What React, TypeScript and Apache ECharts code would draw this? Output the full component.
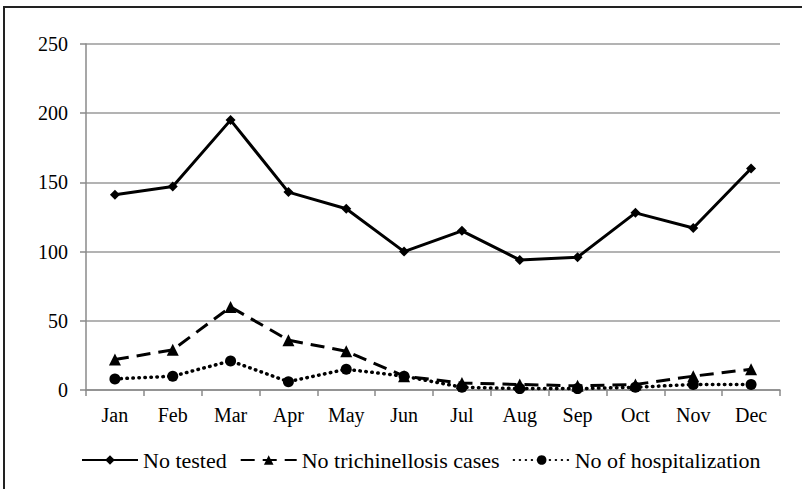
import React, { useEffect, useRef } from "react";
import * as echarts from "echarts";

const months = ["Jan", "Feb", "Mar", "Apr", "May", "Jun", "Jul", "Aug", "Sep", "Oct", "Nov", "Dec"];
const noTested = [141, 147, 195, 143, 131, 100, 115, 94, 96, 128, 117, 160];
const noCases = [22, 29, 60, 36, 28, 10, 5, 4, 3, 4, 10, 15];
const noHospital = [8, 10, 21, 6, 15, 10, 2, 1, 1, 2, 4, 4];
const yTicks = { min: 0, max: 250, interval: 50 };

const FONT = "Liberation Serif";

export default function App() {
  const ref = useRef<HTMLDivElement>(null);
  useEffect(() => {
    if (!ref.current) return;
    const chart = echarts.init(ref.current, undefined, { renderer: "svg" });
    chart.setOption({
      animation: false,
      backgroundColor: "#fff",
      textStyle: { fontFamily: FONT, color: "#000" },
      graphic: [
        {
          type: "polyline",
          shape: { points: [[802, 7], [4, 7], [4, 489]] },
          style: { stroke: "#222", lineWidth: 2, fill: "none" },
          silent: true,
        },
      ],
      grid: { left: 86, right: 22, top: 44, bottom: 99, containLabel: false },
      legend: {
        top: 444,
        left: 76,
        itemWidth: 56,
        itemHeight: 12,
        itemGap: 13,
        textStyle: { fontFamily: FONT, fontSize: 22, color: "#000" },
        data: ["No tested", "No trichinellosis cases", "No of hospitalization"],
      },
      xAxis: {
        type: "category",
        data: months,
        boundaryGap: true,
        axisLine: { lineStyle: { color: "#8a8a8a", width: 1.5 } },
        axisTick: { show: true, length: 6, lineStyle: { color: "#8a8a8a", width: 1.5 } },
        axisLabel: { fontFamily: FONT, fontSize: 20, color: "#000", margin: 15 },
      },
      yAxis: {
        type: "value",
        min: yTicks.min,
        max: yTicks.max,
        interval: yTicks.interval,
        axisLine: { show: true, lineStyle: { color: "#8a8a8a", width: 1.5 } },
        axisTick: { show: true, length: 6, lineStyle: { color: "#8a8a8a", width: 1.5 } },
        axisLabel: { fontFamily: FONT, fontSize: 20, color: "#000", margin: 18 },
        splitLine: { show: true, lineStyle: { color: "#9a9a9a", width: 1.5 } },
      },
      series: [
        {
          name: "No tested",
          type: "line",
          data: noTested,
          symbol: "diamond",
          symbolSize: 10,
          itemStyle: { color: "#000" },
          lineStyle: { color: "#000", width: 3, type: "solid" },
        },
        {
          name: "No trichinellosis cases",
          type: "line",
          data: noCases,
          symbol: "triangle",
          symbolSize: 12,
          itemStyle: { color: "#000" },
          lineStyle: { color: "#000", width: 3, type: [14, 8] },
        },
        {
          name: "No of hospitalization",
          type: "line",
          data: noHospital,
          symbol: "circle",
          symbolSize: 11,
          itemStyle: { color: "#000" },
          lineStyle: { color: "#000", width: 3.5, type: [0.5, 5.5], cap: "round" },
        },
      ],
    });
    return () => chart.dispose();
  }, []);
  return (
    <div
      ref={ref}
      style={{ position: "fixed", left: 0, top: 0, width: 802, height: 489 }}
    />
  );
}
